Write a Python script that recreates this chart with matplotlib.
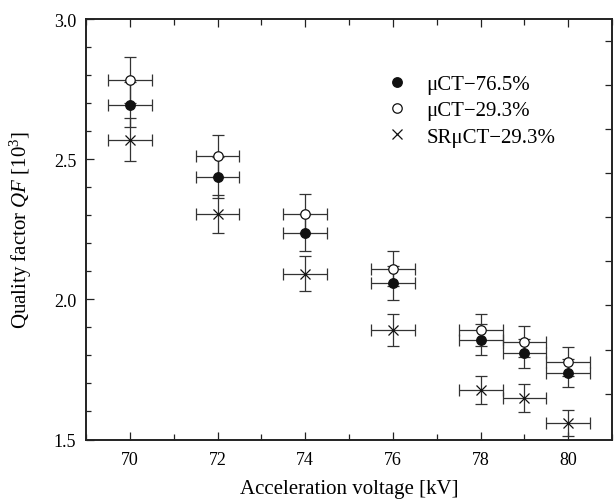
import matplotlib

matplotlib.use("AGG")

import matplotlib.pyplot as plt  # isort:skip
from matplotlib.ticker import FixedLocator, MultipleLocator, NullFormatter  # isort:skip

# acceleration voltage [kV]
voltage = [70, 72, 74, 76, 78, 79, 80]
voltage_err = [0.5, 0.5, 0.5, 0.5, 0.5, 0.5, 0.5]

# quality factor QF [10^3]
qf_mct_765 = [2.694, 2.435, 2.238, 2.058, 1.856, 1.807, 1.738]
qf_mct_765_err = [0.080, 0.073, 0.067, 0.062, 0.056, 0.053, 0.050]

qf_mct_293 = [2.782, 2.512, 2.306, 2.110, 1.892, 1.849, 1.778]
qf_mct_293_err = [0.083, 0.075, 0.069, 0.063, 0.057, 0.055, 0.052]

qf_srmct_293 = [2.569, 2.305, 2.092, 1.890, 1.676, 1.648, 1.558]
qf_srmct_293_err = [0.077, 0.069, 0.063, 0.057, 0.050, 0.050, 0.047]

labels = ["\u03bcCT\u221276.5%", "\u03bcCT\u221229.3%", "SR\u03bcCT\u221229.3%"]

# ticks on the right spine (unlabelled)
right_ticks = [2.922, 2.764, 2.607, 2.450, 2.293, 2.136, 1.979, 1.821, 1.664]

plt.rcParams["font.family"] = ["Liberation Serif", "DejaVu Serif"]
plt.rcParams["mathtext.fontset"] = "custom"
plt.rcParams["mathtext.rm"] = "Liberation Serif"
plt.rcParams["mathtext.it"] = "Liberation Serif:italic"
plt.rcParams["font.size"] = 13

ERR_COLOR = "#333333"

fig = plt.figure(figsize=(6.14, 5.02), dpi=100)
ax = fig.add_axes([0.140, 0.1225, 0.857, 0.8375])

err_kw = dict(fmt="none", ecolor=ERR_COLOR, elinewidth=0.9, capsize=4.5,
              capthick=0.9, zorder=2)
ax.errorbar(voltage, qf_srmct_293, yerr=qf_srmct_293_err, xerr=voltage_err, **err_kw)
ax.errorbar(voltage, qf_mct_765, yerr=qf_mct_765_err, xerr=voltage_err, **err_kw)
ax.errorbar(voltage, qf_mct_293, yerr=qf_mct_293_err, xerr=voltage_err, **err_kw)

ax.plot(voltage, qf_mct_765, "o", color="#111111", markersize=6.8, ls="none",
        zorder=4, label=labels[0])
ax.plot(voltage, qf_mct_293, "o", markerfacecolor="white", markeredgecolor="#111111",
        markeredgewidth=0.9, markersize=6.8, ls="none", zorder=4, label=labels[1])
ax.plot(voltage, qf_srmct_293, "x", color="#111111", markersize=6.5,
        markeredgewidth=0.9, ls="none", zorder=4, label=labels[2])

ax.set_xlim(69, 81)
ax.set_ylim(1.5, 3.0)

ax.xaxis.set_major_locator(MultipleLocator(2))
ax.xaxis.set_minor_locator(MultipleLocator(1))
ax.yaxis.set_major_locator(MultipleLocator(0.5))
ax.yaxis.set_minor_locator(MultipleLocator(0.1))
ax.yaxis.set_major_formatter(plt.FormatStrFormatter("%.1f"))

ax.tick_params(which="both", direction="in", top=True, right=False, width=0.9,
               color="#222222", labelsize=13)
ax.tick_params(which="major", length=5.5)
ax.tick_params(which="minor", length=3.5)
ax.tick_params(axis="x", which="major", pad=8.5)
ax.tick_params(axis="y", which="major", pad=7)
ax.tick_params(axis="x", which="minor", top=True, length=4)

# secondary ticks on the right spine
ax_r = ax.twinx()
ax_r.set_ylim(1.5, 3.0)
ax_r.yaxis.set_major_locator(FixedLocator(right_ticks))
ax_r.yaxis.set_major_formatter(NullFormatter())
ax_r.tick_params(direction="in", length=5, width=0.9, color="#222222")

for a in (ax, ax_r):
    for spine in a.spines.values():
        spine.set_linewidth(1.2)
        spine.set_color("#222222")

ax.set_xlabel("Acceleration voltage [kV]", fontsize=15, labelpad=7.5)
ax.set_ylabel("Quality factor $QF$ [10$^3$]", fontsize=15, labelpad=14.5)

ax.legend(loc="upper left", bbox_to_anchor=(0.552, 0.888), frameon=False,
          fontsize=15, handletextpad=0.79, labelspacing=0.32, handlelength=1.2,
          borderaxespad=0)

fig.savefig("out.png", dpi=100)
plt.close(fig)
